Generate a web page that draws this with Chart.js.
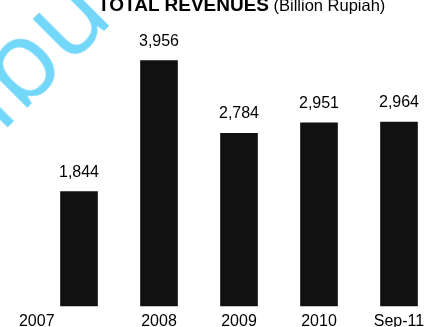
<!DOCTYPE html>
<html>
<head>
<meta charset="utf-8">
<script src="https://cdn.jsdelivr.net/npm/chart.js@4.4.0/dist/chart.umd.min.js"></script>
<style>
  html, body { margin: 0; padding: 0; background: #fff; overflow: hidden; }
  #wrap { position: relative; width: 424px; height: 327px; overflow: hidden; }
  #title {
    position: absolute; left: 98px; top: -4px; line-height: 18px; white-space: nowrap;
    font-family: "Liberation Sans", Arial, sans-serif; color: #000;
  }
  #title b { font-size: 19px; }
  #title span { font-size: 16.5px; }
  #mark {
    position: absolute; left: 1px; top: 36px; line-height: 110px; white-space: nowrap;
    font-family: "Open Sans", sans-serif; font-size: 110px; color: rgb(115, 215, 250);
    transform-origin: 0 98px; transform: rotate(-45deg); pointer-events: none;
  }
</style>
</head>
<body>
<div id="wrap">
  <canvas id="revenueChart" width="424" height="327"></canvas>
  <div id="title"><b>TOTAL REVENUES</b> <span>(Billion Rupiah)</span></div>
  <div id="mark">ibu</div>
</div>
<script>
// Chart data
const periods = ['2007', '2008', '2009', '2010', 'Sep-11'];
const revenues = [1844, 3956, 2784, 2951, 2964];

// Value labels drawn above each bar
const valueLabels = {
    id: 'valueLabels',
    afterDatasetsDraw(chart) {
        const ctx = chart.ctx;
        const meta = chart.getDatasetMeta(0);
        ctx.save();
        ctx.font = '16px "Liberation Sans", Arial, sans-serif';
        ctx.fillStyle = '#000';
        ctx.textAlign = 'center';
        ctx.textBaseline = 'alphabetic';
        meta.data.forEach((bar, i) => {
            ctx.fillText(revenues[i].toLocaleString('en-US'), bar.x, bar.y - 15);
        });
        ctx.restore();
    }
};

const ctx = document.getElementById('revenueChart').getContext('2d');
const revenueChart = new Chart(ctx, {
    type: 'bar',
    data: {
        labels: periods,
        datasets: [{
            data: revenues,
            backgroundColor: '#111111',
            barThickness: 37,
            clip: false
        }]
    },
    options: {
        responsive: false,
        animation: false,
        layout: {
            padding: { left: 79, right: 25, top: 2, bottom: 0 }
        },
        plugins: {
            legend: { display: false },
            tooltip: { enabled: false }
        },
        scales: {
            x: {
                offset: false,
                grid: { display: false },
                border: { display: false },
                ticks: {
                    color: '#000',
                    padding: -2,
                    autoSkip: false,
                    maxRotation: 0,
                    font: { family: '"Liberation Sans", Arial, sans-serif', size: 16 },
                    // the first label sits left of its bar in the original
                    callback: function(value, index) {
                        const label = this.getLabelForValue(value);
                        return index === 0 ? label + ' '.repeat(19) : label;
                    }
                },
                afterFit: function(scale) {
                    scale.paddingLeft = 0;
                    scale.paddingRight = 0;
                    scale.height = 21;
                }
            },
            y: {
                display: false,
                min: 0,
                max: 4900
            }
        }
    },
    plugins: [valueLabels]
});
</script>
</body>
</html>
